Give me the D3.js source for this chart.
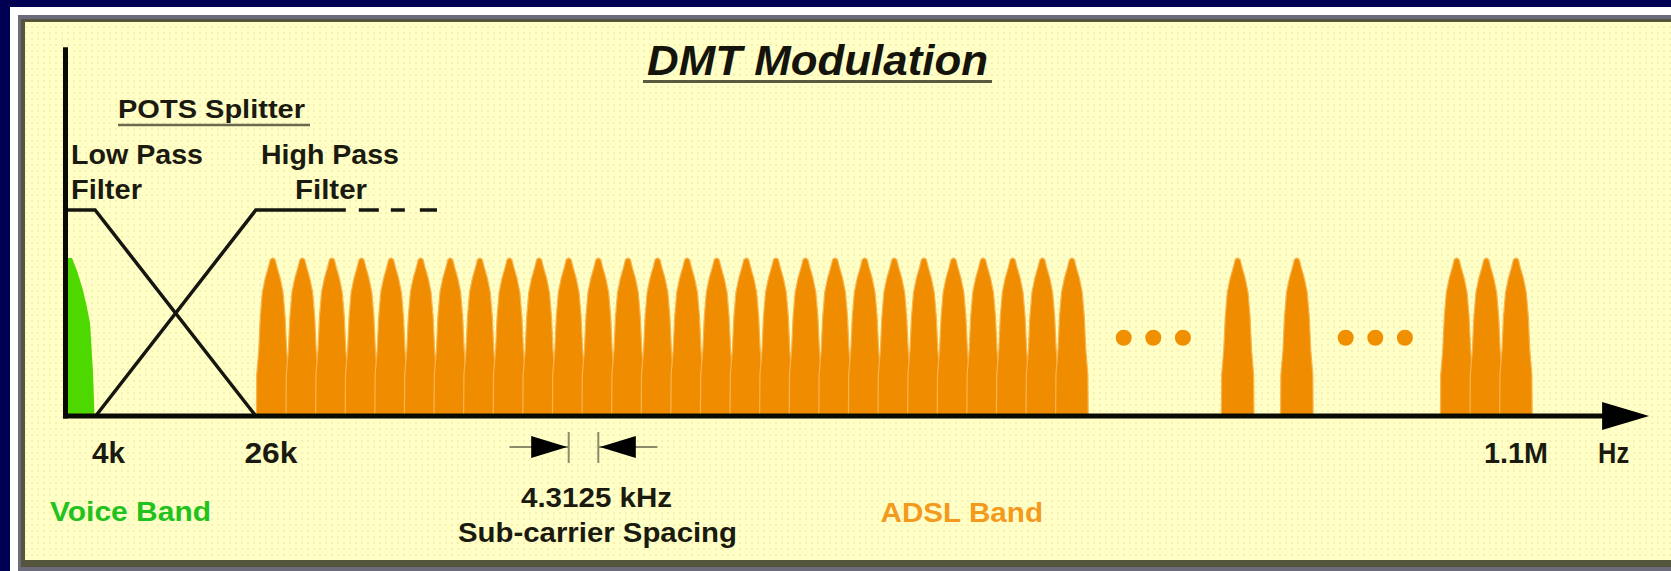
<!DOCTYPE html>
<html>
<head>
<meta charset="utf-8">
<script src="https://cdn.jsdelivr.net/npm/d3@7.9.0/dist/d3.min.js"></script>
<style>
  html, body { margin: 0; padding: 0; background: #000052; overflow: hidden; }
  svg { display: block; }
  text { font-family: "Liberation Sans", Arial, sans-serif; font-weight: bold; }
</style>
</head>
<body>
<div id="vis"></div>
<script>
// x unit = one sub-carrier slot on the schematic axis, y = relative level
const adslTones = [7, 8, 9, 10, 11, 12, 13, 14, 15, 16, 17, 18, 19, 20, 21, 22, 23, 24, 25, 26, 27,
                   28, 29, 30, 31, 32, 33, 34, 39.6, 41.6, 47, 48, 49];
const ellipsisSlots = [35.75, 36.75, 37.75, 43.25, 44.25, 45.25];
const ellipsisLevel = 0.38;
// one carrier's lobe: [offset from centre, level]
const toneProfile = [[0, 0.767], [0.08, 0.76], [0.15, 0.72], [0.25, 0.67], [0.35, 0.6],
                     [0.42, 0.48], [0.47, 0.32], [0.54, 0.2], [0.55, 0]];
// voice band: [slot, level]
const voiceProfile = [[0, 0.767], [0.22, 0.767], [0.4, 0.7], [0.59, 0.61], [0.72, 0.53],
                      [0.83, 0.45], [0.93, 0.21], [0.98, 0], [0, 0]];
const lowPass = [[0, 1], [1, 1], [6.43, 0]];
const highPass = [[1.02, 0], [6.43, 1], [9.47, 1]];
const highPassMore = [[9.91, 1], [12.55, 1]];
const spacingTones = [17, 18];
const tickLabels = ['4k', '26k', '1.1M', 'Hz'];
const tickSlots = [1.45, 6.94, 49, 52.3];
const tickWidths = [33, 53, 64, 31];

const W = 1671, H = 571;
const svg = d3.select('#vis').append('svg').attr('width', W).attr('height', H);

// frame + dotted panel
const defs = svg.append('defs');
const pat = defs.append('pattern').attr('id', 'dots')
  .attr('width', 6).attr('height', 6).attr('patternUnits', 'userSpaceOnUse');
pat.append('rect').attr('width', 6).attr('height', 6).attr('fill', '#FFFFC6');
pat.append('rect').attr('x', 1).attr('y', 2).attr('width', 2).attr('height', 2).attr('fill', '#F3F1B8');

svg.append('rect').attr('width', W).attr('height', H).attr('fill', '#000052');
svg.append('rect').attr('x', 10).attr('y', 7).attr('width', W).attr('height', H).attr('fill', '#fff');
svg.append('rect').attr('x', 18).attr('y', 15).attr('width', W).attr('height', H).attr('fill', '#6B6B7B');
svg.append('rect').attr('x', 21).attr('y', 19).attr('width', W).attr('height', 548).attr('fill', '#55553E');
svg.append('rect').attr('x', 25).attr('y', 22).attr('width', W).attr('height', 538).attr('fill', 'url(#dots)');

const x = d3.scaleLinear().domain([0, 49]).range([65.5, 65.5 + 49 * 29.6]);
const y = d3.scaleLinear().domain([0, 1]).range([416, 210]);
const xMax = 53.5, yMax = 1.79;

const line = d3.line().x(d => x(d[0])).y(d => y(d[1]));

// voice band
svg.append('path')
  .datum(voiceProfile)
  .attr('d', line.curve(d3.curveLinearClosed))
  .attr('fill', '#4DD800');
line.curve(d3.curveLinear);

// ADSL carriers, each one mirrored from the lobe profile
svg.append('g').selectAll('path')
  .data(adslTones)
  .join('path')
    .attr('d', t => {
      const pts = toneProfile.slice().reverse().map(p => [t - p[0], p[1]])
        .concat(toneProfile.slice(1).map(p => [t + p[0], p[1]]));
      return line(pts) + 'Z';
    })
    .attr('fill', '#F08C00')
    .attr('stroke', '#F7B551')
    .attr('stroke-width', 1.2);

svg.append('g').selectAll('circle')
  .data(ellipsisSlots)
  .join('circle')
    .attr('cx', d => x(d))
    .attr('cy', y(ellipsisLevel))
    .attr('r', 8)
    .attr('fill', '#F09000');

// splitter filters
[lowPass, highPass, highPassMore].forEach((f, i) => {
  svg.append('path').datum(f).attr('d', line)
    .attr('fill', 'none').attr('stroke', '#161610').attr('stroke-width', 3.5)
    .attr('stroke-dasharray', i === 2 ? '20,12,14,15' : null);
});

// axes
svg.append('line')
  .attr('x1', x(0)).attr('x2', x(0))
  .attr('y1', y(0) + 2.5).attr('y2', y(yMax))
  .attr('stroke', '#0a0a05').attr('stroke-width', 5);
svg.append('line')
  .attr('x1', x(0) - 2.5).attr('x2', x(xMax) - 44)
  .attr('y1', y(0)).attr('y2', y(0))
  .attr('stroke', '#0a0a05').attr('stroke-width', 5);
svg.append('path')
  .attr('d', `M${x(xMax)},${y(0)} L${x(xMax) - 47},${y(0) - 14} L${x(xMax) - 47},${y(0) + 14} Z`)
  .attr('fill', '#000');

// tick labels
svg.append('g').selectAll('text')
  .data(tickLabels)
  .join('text')
    .attr('x', (d, i) => x(tickSlots[i]))
    .attr('y', 463)
    .attr('text-anchor', 'middle')
    .attr('font-size', 29)
    .attr('textLength', (d, i) => tickWidths[i])
    .attr('lengthAdjust', 'spacingAndGlyphs')
    .attr('fill', '#1a1a10')
    .text(d => d);

// sub-carrier spacing marker
const mk = svg.append('g');
const my = 447;
spacingTones.forEach((t, i) => {
  const dir = i === 0 ? 1 : -1;
  const tip = x(t) - dir * 1.5;
  mk.append('line')
    .attr('x1', x(t)).attr('x2', x(t)).attr('y1', 432).attr('y2', 463)
    .attr('stroke', '#8b8b6c').attr('stroke-width', 2);
  mk.append('line')
    .attr('x1', x(t - dir * 2)).attr('x2', x(t)).attr('y1', my).attr('y2', my)
    .attr('stroke', '#8b8b6c').attr('stroke-width', 2);
  mk.append('path')
    .attr('d', `M${tip},${my} L${tip - dir * 36},${my - 11} L${tip - dir * 36},${my + 11} Z`)
    .attr('fill', '#000');
});

// labels
const labels = [
  { t: 'DMT Modulation', x: 817.5, y: 75, size: 43, len: 341, anchor: 'middle', italic: true, fill: '#14140c' },
  { t: 'POTS Splitter', x: 118, y: 118, size: 25, len: 187, anchor: 'start', fill: '#1a1a10' },
  { t: 'Low Pass', x: 71, y: 164, size: 28, len: 132, anchor: 'start', fill: '#1a1a10' },
  { t: 'Filter', x: 71, y: 199, size: 28, len: 71, anchor: 'start', fill: '#1a1a10' },
  { t: 'High Pass', x: 261, y: 164, size: 28, len: 138, anchor: 'start', fill: '#1a1a10' },
  { t: 'Filter', x: 295, y: 199, size: 28, len: 72, anchor: 'start', fill: '#1a1a10' },
  { t: 'Voice Band', x: 50, y: 521, size: 28, len: 161, anchor: 'start', fill: '#22C21E' },
  { t: '4.3125 kHz', x: 596.5, y: 507, size: 28, len: 151, anchor: 'middle', fill: '#1a1a10' },
  { t: 'Sub-carrier Spacing', x: 597.5, y: 542, size: 28, len: 279, anchor: 'middle', fill: '#1a1a10' },
  { t: 'ADSL Band', x: 880.5, y: 521.5, size: 28, len: 162.5, anchor: 'start', fill: '#F39A1E' }
];
svg.append('g').selectAll('text')
  .data(labels)
  .join('text')
    .attr('x', d => d.x).attr('y', d => d.y)
    .attr('text-anchor', d => d.anchor)
    .attr('font-size', d => d.size)
    .attr('font-style', d => d.italic ? 'italic' : 'normal')
    .attr('textLength', d => d.len)
    .attr('lengthAdjust', 'spacingAndGlyphs')
    .attr('fill', d => d.fill)
    .text(d => d.t);

// underlines
svg.append('line').attr('x1', 643).attr('x2', 992).attr('y1', 81.5).attr('y2', 81.5)
  .attr('stroke', '#5a5a40').attr('stroke-width', 3);
svg.append('line').attr('x1', 118).attr('x2', 310).attr('y1', 125).attr('y2', 125)
  .attr('stroke', '#6a6a50').attr('stroke-width', 2.5);
</script>
</body>
</html>
